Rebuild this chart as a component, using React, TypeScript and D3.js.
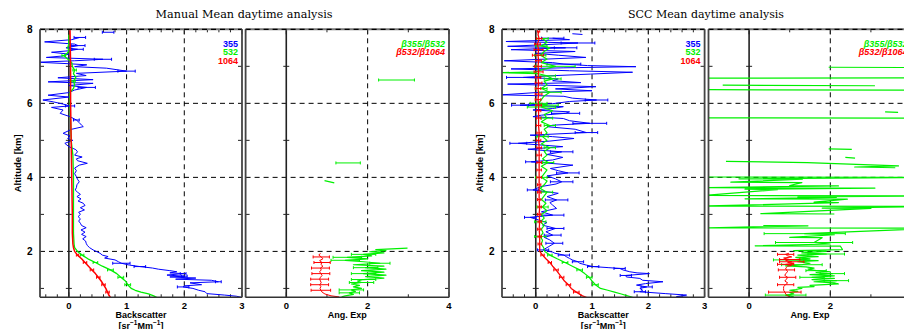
import * as d3 from 'd3';

type Pt = [number, number, number?];

// altitude [km], value, error (0 = no bar). NaN value = gap in the profile
const manual355: Pt[] = [
  [7.92, 0.68, 0.1], [7.86, NaN],
  [7.78, 0.19, 0.1], [7.72, 0.05], [7.66, -0.42], [7.6, 0.1], [7.56, 0.16, 0.12], [7.5, -0.05],
  [7.46, 0.15, 0.1], [7.42, 0.0], [7.38, -0.3], [7.33, 0.0], [7.28, -0.1], [7.24, -0.39],
  [7.19, 0.59, 0.15], [7.15, 0.1], [7.11, -0.53], [7.07, 0.0], [7.04, 0.31], [6.99, 0.1],
  [6.95, 0.65], [6.87, 1.0, 0.15], [6.81, 0.13], [6.75, 0.3], [6.69, -0.19], [6.64, 0.42],
  [6.58, -0.36], [6.54, 0.42], [6.48, 0.0], [6.43, 0.31, 0.15], [6.36, 0.1], [6.29, 0.0],
  [6.22, -0.36], [6.17, 0.0], [6.09, -0.45], [6.04, -0.27], [5.98, -0.1], [5.93, 0.02, 0.08],
  [5.89, -0.3], [5.82, -0.1], [5.73, -0.15], [5.64, 0.02], [5.55, 0.13, 0.05], [5.48, 0.18],
  [5.41, 0.22], [5.37, 0.25], [5.3, 0.05], [5.19, -0.1], [5.12, 0.02], [5.05, -0.02], [5.0, 0.07],
  [4.92, -0.07], [4.83, 0.0], [4.75, 0.12], [4.69, 0.15], [4.6, 0.1], [4.55, 0.23], [4.5, 0.13],
  [4.45, 0.15], [4.38, 0.32], [4.33, 0.18], [4.25, 0.1], [4.18, 0.13], [4.1, 0.1], [4.02, 0.13],
  [3.95, 0.15], [3.88, 0.18], [3.8, 0.14], [3.72, 0.13], [3.66, 0.11], [3.6, 0.15], [3.54, 0.2],
  [3.48, 0.14], [3.42, 0.21], [3.36, 0.16], [3.3, 0.25], [3.24, 0.28], [3.18, 0.2], [3.12, 0.27],
  [3.06, 0.17], [3.0, 0.2], [2.94, 0.16], [2.88, 0.2], [2.82, 0.17], [2.76, 0.2], [2.7, 0.22],
  [2.64, 0.3], [2.58, 0.21], [2.52, 0.28], [2.46, 0.22], [2.4, 0.3], [2.34, 0.24], [2.28, 0.29],
  [2.22, 0.3], [2.16, 0.32], [2.1, 0.36], [2.04, 0.42], [1.98, 0.5], [1.95, 0.54], [1.9, 0.58],
  [1.86, 0.68], [1.82, 0.62], [1.77, 0.8], [1.72, 0.86], [1.68, 0.91, 0.15], [1.63, 1.05],
  [1.59, 1.23, 0.1], [1.55, 1.45], [1.52, 1.55], [1.48, 1.75], [1.45, 1.87], [1.42, 1.75],
  [1.4, 1.98, 0.05], [1.36, 1.7], [1.33, 2.0, 0.05], [1.31, 1.75], [1.28, 2.2], [1.25, 1.85],
  [1.22, 2.47], [1.18, 2.59, 0.05], [1.15, 2.1], [1.1, 2.3], [1.07, 2.0], [1.04, 1.98, 0.1],
  [1.0, 2.15], [0.95, 2.25], [0.91, 2.36], [0.86, 2.39], [0.82, 2.7], [0.79, 2.9], [0.76, 2.99],
];

const manual532: Pt[] = [
  [7.85, 0.0], [7.6, 0.0], [7.51, -0.02], [7.42, 0.0], [7.35, -0.03], [7.29, -0.09, 0.03],
  [7.24, -0.05], [7.2, -0.02], [7.1, 0.05], [7.0, 0.06], [6.9, 0.1, 0.03], [6.8, 0.08],
  [6.7, 0.12], [6.6, 0.08, 0.03], [6.5, 0.1], [6.4, 0.08], [6.3, 0.02], [6.0, 0.02], [5.5, 0.03],
  [5.0, 0.04], [4.6, 0.07], [4.0, 0.08], [3.0, 0.08], [2.5, 0.08], [2.2, 0.09], [2.1, 0.1],
  [2.0, 0.15], [1.9, 0.23, 0.03], [1.8, 0.33], [1.7, 0.46, 0.04], [1.6, 0.58], [1.5, 0.72, 0.05],
  [1.4, 0.83], [1.3, 0.9, 0.05], [1.2, 0.98], [1.1, 1.02, 0.05], [1.0, 1.08], [0.95, 1.15],
  [0.9, 1.25], [0.85, 1.38], [0.8, 1.47], [0.76, 1.52],
];

const manual1064: Pt[] = [
  [8.0, 0.02], [7.0, 0.03], [6.0, 0.03], [5.0, 0.04], [4.0, 0.05], [3.0, 0.06], [2.5, 0.06],
  [2.2, 0.07], [2.1, 0.08], [2.0, 0.1], [1.9, 0.15, 0.02], [1.8, 0.22], [1.7, 0.28, 0.03],
  [1.6, 0.34], [1.5, 0.4, 0.03], [1.4, 0.46], [1.3, 0.51, 0.03], [1.2, 0.56], [1.1, 0.6, 0.03],
  [1.0, 0.64], [0.9, 0.67, 0.03], [0.8, 0.7], [0.76, 0.72],
];

const manualAe355: Pt[] = [
  [6.63, 2.71, 0.44], [6.0, NaN], [4.39, 1.52, 0.3], [4.1, NaN], [3.91, 0.94], [3.85, 1.18],
  [3.0, NaN], [2.09, 2.98], [2.05, 2.2], [2.02, 2.45], [1.99, 2.05], [1.96, 2.4],
  [1.92, 1.9, 0.3], [1.88, 2.1], [1.84, 1.5, 0.35], [1.8, 2.0], [1.76, 1.45, 0.35], [1.72, 1.9],
  [1.68, 2.3, 0.25], [1.64, 1.65], [1.6, 2.4], [1.56, 1.95, 0.3], [1.52, 2.45], [1.48, 1.85],
  [1.44, 2.4], [1.4, 1.9, 0.3], [1.36, 2.45], [1.32, 1.95], [1.28, 2.4], [1.24, 1.9, 0.3],
  [1.2, 1.75], [1.16, 1.85, 0.3], [1.12, 1.6], [1.08, 1.8], [1.04, 1.65], [1.0, 1.85],
  [0.96, 1.6, 0.3], [0.92, 1.7], [0.88, 1.55, 0.25], [0.84, 1.65], [0.8, 1.45], [0.77, 1.36],
];

const manualAe1064: Pt[] = [
  [1.95, 0.84], [1.9, 0.8], [1.85, 0.86, 0.2], [1.8, 0.9], [1.75, 0.82], [1.7, 0.88, 0.2],
  [1.65, 0.85], [1.6, 0.9], [1.55, 0.84, 0.22], [1.5, 0.86], [1.45, 0.82], [1.4, 0.85, 0.22],
  [1.35, 0.88], [1.3, 0.84], [1.25, 0.82, 0.22], [1.2, 0.84], [1.15, 0.86], [1.1, 0.82, 0.22],
  [1.05, 0.85], [1.0, 0.83], [0.95, 0.85, 0.24], [0.9, 0.88], [0.85, 0.95], [0.8, 1.1],
  [0.77, 1.3],
];

const scc355: Pt[] = [
  [7.88, 0.65], [7.86, 0.83], [7.8, NaN],
  [7.76, 0.3, 0.2], [7.72, 0.6], [7.67, -0.53], [7.63, 0.75, 0.3], [7.58, 0.1], [7.54, -0.5],
  [7.5, 0.53, 0.2], [7.45, -0.44], [7.4, 0.7], [7.35, 0.0], [7.3, 0.4], [7.24, 0.89], [7.19, 0.1],
  [7.15, -0.56], [7.1, 0.3], [7.06, 0.5, 0.3], [7.02, 0.92], [6.99, 1.78], [6.96, 0.5],
  [6.93, -0.44], [6.88, 0.6], [6.84, 1.72], [6.79, 0.97], [6.74, 0.2], [6.7, -0.22, 0.3],
  [6.66, 0.4], [6.61, 0.3], [6.56, 0.8], [6.52, -0.5], [6.45, 1.07], [6.39, 0.35], [6.34, 1.0],
  [6.3, 0.1], [6.23, -0.6], [6.19, 0.5], [6.14, 0.65], [6.09, 1.08, 0.2], [6.05, 0.6],
  [5.99, 0.3], [5.95, -0.28, 0.15], [5.91, 0.49], [5.86, 0.3], [5.82, -0.05], [5.77, 0.6],
  [5.73, 0.53, 0.25], [5.68, 0.1], [5.64, -0.05], [5.59, 0.49], [5.53, 0.6], [5.46, 0.96, 0.3],
  [5.41, 0.3], [5.37, 0.2], [5.3, 0.7], [5.21, 0.9, 0.2], [5.14, -0.1], [5.1, 0.3], [5.05, 0.68],
  [4.98, 0.25], [4.92, -0.31, 0.15], [4.83, 0.48], [4.76, -0.14], [4.69, 0.46, 0.2], [4.62, 0.2],
  [4.54, 0.48], [4.47, 0.3], [4.42, -0.08, 0.1], [4.33, 0.66], [4.24, 0.26], [4.18, 0.4],
  [4.12, 0.57, 0.2], [4.04, 0.2], [3.96, 0.35], [3.88, 0.46, 0.2], [3.82, 0.36], [3.75, 0.09],
  [3.66, -0.05, 0.1], [3.57, 0.4], [3.48, 0.2], [3.39, 0.37, 0.2], [3.32, 0.25], [3.25, 0.3],
  [3.16, 0.37], [3.07, 0.1], [2.98, 0.3, 0.2], [2.92, -0.1, 0.1], [2.85, 0.05], [2.78, 0.2],
  [2.71, 0.12], [2.62, 0.35, 0.15], [2.53, 0.18], [2.44, 0.3, 0.15], [2.38, 0.15], [2.31, 0.25],
  [2.22, 0.33, 0.15], [2.12, 0.22], [2.04, 0.13, 0.1], [1.98, 0.3], [1.95, 0.34], [1.9, 0.5, 0.1],
  [1.86, 0.54], [1.81, 0.6], [1.77, 0.65], [1.72, 0.75, 0.1], [1.68, 0.78], [1.63, 0.9],
  [1.59, 1.02, 0.1], [1.56, 1.3], [1.54, 1.49, 0.1], [1.5, 1.55], [1.45, 1.67], [1.42, 1.8],
  [1.4, 2.02], [1.35, 1.6, 0.1], [1.31, 1.61], [1.27, 1.85], [1.22, 1.9], [1.18, 2.26],
  [1.13, 1.95], [1.09, 1.79], [1.04, 1.97, 0.1], [1.0, 1.85], [0.95, 1.9], [0.91, 1.85, 0.1],
  [0.86, 2.3], [0.82, 2.68], [0.78, 2.5], [0.76, 2.7],
];

const scc532: Pt[] = [
  [7.75, 0.12, 0.1], [7.65, 0.2], [7.55, 0.1, 0.1], [7.5, 0.25], [7.4, 0.15], [7.3, 0.08, 0.1],
  [7.2, 0.2], [7.1, 0.1], [7.0, 0.35, 0.35], [6.9, 0.1], [6.85, 0.0], [6.83, -0.6], [6.8, 0.05],
  [6.74, 0.2, 0.15], [6.66, 0.3, 0.15], [6.6, 0.15], [6.5, 0.2], [6.4, 0.1, 0.1], [6.3, 0.25, 0.2],
  [6.2, 0.15], [6.1, 0.1], [6.0, 0.05, 0.15], [5.95, 0.2, 0.2], [5.9, 0.1, 0.25], [5.8, 0.3],
  [5.7, 0.15], [5.6, 0.2, 0.1], [5.5, 0.1], [5.4, 0.25, 0.1], [5.3, 0.15], [5.2, 0.2],
  [5.1, 0.12, 0.1], [5.0, 0.2], [4.9, 0.1], [4.8, 0.25, 0.1], [4.7, 0.15], [4.6, 0.2], [4.5, 0.12],
  [4.4, 0.22, 0.1], [4.3, 0.1], [4.2, 0.2], [4.1, 0.15], [4.0, 0.1, 0.1], [3.9, 0.2], [3.8, 0.15],
  [3.7, 0.08], [3.6, 0.2, 0.1], [3.5, 0.15], [3.4, 0.1], [3.3, 0.18], [3.2, 0.12, 0.1], [3.1, 0.2],
  [3.0, 0.1], [2.9, 0.15], [2.8, 0.08, 0.1], [2.7, 0.15], [2.6, 0.1], [2.5, 0.13], [2.4, 0.08, 0.1],
  [2.3, 0.12], [2.2, 0.1], [2.1, 0.14], [2.0, 0.16], [1.9, 0.25, 0.04], [1.8, 0.38],
  [1.7, 0.52, 0.05], [1.6, 0.65], [1.5, 0.78, 0.05], [1.4, 0.87], [1.3, 0.95, 0.05], [1.2, 1.0],
  [1.1, 1.06, 0.05], [1.0, 1.15], [0.95, 1.28], [0.9, 1.4], [0.85, 1.52], [0.8, 1.63], [0.76, 1.72],
];

const scc1064: Pt[] = [
  [7.95, 0.05, 0.02], [7.85, 0.04], [7.75, 0.06, 0.05], [7.6, 0.03, 0.05], [7.45, 0.05, 0.08],
  [7.3, 0.04, 0.1], [7.15, 0.05, 0.05], [7.0, 0.04, 0.06], [6.85, 0.05, 0.08], [6.7, 0.04, 0.05],
  [6.55, 0.05, 0.06], [6.4, 0.04, 0.05], [6.25, 0.05, 0.06], [6.1, 0.04, 0.05], [5.95, 0.05, 0.05],
  [5.8, 0.05, 0.04], [5.6, 0.05, 0.04], [5.4, 0.05, 0.04], [5.2, 0.06, 0.04], [5.0, 0.05, 0.04],
  [4.8, 0.06, 0.04], [4.6, 0.06, 0.04], [4.4, 0.06, 0.04], [4.2, 0.06, 0.04], [4.0, 0.06, 0.04],
  [3.8, 0.06, 0.03], [3.6, 0.06, 0.03], [3.4, 0.06, 0.03], [3.2, 0.07, 0.03], [3.0, 0.06, 0.03],
  [2.8, 0.07, 0.03], [2.6, 0.06, 0.03], [2.4, 0.07, 0.03], [2.2, 0.07, 0.03], [2.0, 0.07],
  [1.9, 0.12, 0.03], [1.8, 0.18], [1.7, 0.25, 0.03], [1.6, 0.3], [1.5, 0.36, 0.04], [1.4, 0.41],
  [1.3, 0.46, 0.04], [1.2, 0.51], [1.1, 0.58, 0.04], [1.0, 0.63], [0.9, 0.72, 0.05], [0.8, 0.83],
  [0.76, 0.9],
];

const sccAe355: Pt[] = [
  [6.975, 1.96], [6.965, 4.6], [6.8, NaN],
  [6.69, 4.6], [6.68, -1.1], [6.6, NaN],
  [6.49, -0.65], [6.475, 3.1], [6.42, NaN],
  [6.37, -1.1], [6.355, 4.6], [6.0, NaN],
  [5.77, 3.35], [5.755, 3.67], [5.7, NaN],
  [5.61, -1.1], [5.6, 4.6], [5.0, NaN],
  [4.77, 1.96], [4.755, 2.53], [4.65, NaN],
  [4.54, 2.37], [4.52, 2.61], [4.48, NaN],
  [4.43, -0.57], [4.4, 1.43], [4.31, 3.68], [4.28, 2.6], [4.26, 3.6], [4.1, NaN],
  [4.01, -1.1], [3.995, 4.6], [3.96, -0.25], [3.95, 1.31], [3.87, -0.45], [3.86, 1.3],
  [3.78, 1.0], [3.77, 2.2], [3.72, -1.1], [3.71, 3.1], [3.68, -0.1], [3.67, 0.7],
  [3.51, -1.1], [3.5, 4.6], [3.47, 1.2], [3.46, 2.15], [3.42, -0.1], [3.41, 2.42],
  [3.33, 1.6], [3.32, 2.2], [3.225, -1.1], [3.215, 4.6], [3.17, 1.8], [3.16, 3.0],
  [3.02, 0.29], [3.01, 2.1], [2.85, NaN],
  [2.7, 0.35], [2.69, 1.45], [2.635, -1.1], [2.625, 4.6],
  [2.48, 1.37, 1.0], [2.45, 2.1], [2.38, 1.0], [2.37, 1.8], [2.24, 1.6, 0.95], [2.2, 2.0],
  [2.15, 0.15], [2.14, 2.25], [2.05, 2.3], [2.02, 1.1], [2.0, 1.9], [1.96, 1.3],
  [1.93, 1.9, 0.45], [1.9, 1.2], [1.86, 1.7], [1.84, 1.15], [1.8, 1.5], [1.77, 1.0, 0.4],
  [1.75, 1.7], [1.72, 1.2], [1.68, 1.5], [1.64, 1.3, 0.5], [1.61, 0.9], [1.58, 1.4], [1.55, 1.6],
  [1.52, 1.45], [1.48, 1.65, 0.25], [1.45, 2.0], [1.43, 1.65], [1.4, 2.05, 0.3], [1.37, 1.5],
  [1.34, 2.1], [1.3, 1.55, 0.3], [1.27, 2.1], [1.24, 1.55], [1.21, 2.15, 0.3], [1.18, 1.6],
  [1.15, 2.1], [1.12, 2.2], [1.08, 1.5], [1.05, 1.6], [1.03, 1.2], [1.0, 1.3], [0.97, 1.15],
  [0.95, 1.0], [0.92, 1.2], [0.89, 1.0], [0.85, 1.1], [0.82, 0.9, 0.5], [0.8, 1.0], [0.77, 1.1],
];

const sccAe1064: Pt[] = [
  [1.95, 0.98], [1.92, 0.9, 0.2], [1.88, 0.95], [1.85, 1.05], [1.82, 0.85], [1.78, 1.0, 0.25],
  [1.75, 0.9], [1.72, 1.05, 0.3], [1.7, 0.95], [1.68, 1.1], [1.65, 0.9, 0.2], [1.62, 1.05],
  [1.6, 0.95], [1.55, 0.9], [1.5, 0.92, 0.2], [1.45, 0.95], [1.4, 0.9], [1.35, 0.88],
  [1.3, 0.95, 0.2], [1.25, 0.92], [1.2, 0.88], [1.15, 0.95], [1.1, 0.9, 0.2], [1.05, 0.85],
  [1.0, 0.85], [0.95, 0.85], [0.9, 0.88, 0.4], [0.85, 0.9], [0.8, 0.95], [0.77, 1.0],
];

const altTicks = [2, 4, 6, 8];
const altMinor = [1, 3, 5, 7];
const bscTicks = [0, 1, 2, 3];
const aeTicks = [0, 2, 4];
const bscLegend = ['355', '532', '1064'];
const aeLegend = ['β355/β532', 'β532/β1064'];

const BLUE = '#0000ff';
const GREEN = '#00f000';
const RED = '#ff0000';
const W = 904;
const H = 329;
const TOP = 29.3;
const BOTTOM = 297.3;
const SANS = '"Liberation Sans", Arial, sans-serif';

const y = d3.scaleLinear().domain([0.76, 8]).range([BOTTOM, TOP]);

type Series = { data: Pt[]; color: string; width: number };

function Panel({
  id, x0, x1, domain, grid, ticks, minorStep, series, legend, legendColors, italic, xLabel, unit, yLabels,
}: {
  id: string; x0: number; x1: number; domain: [number, number]; grid: number[]; ticks: number[];
  minorStep: number; series: Series[]; legend: string[]; legendColors: string[]; italic?: boolean;
  xLabel: string; unit?: boolean; yLabels?: boolean;
}) {
  const x = d3.scaleLinear().domain(domain).range([x0, x1]);
  const line = d3.line<Pt>().defined((d) => !isNaN(d[1])).x((d) => x(d[1])).y((d) => y(d[0]));
  const minor = d3.range(Math.ceil(domain[0] / minorStep) * minorStep, domain[1] + 1e-9, minorStep);
  const cx = (x0 + x1) / 2;
  return (
    <g>
      <defs>
        <clipPath id={id}>
          <rect x={x0} y={TOP} width={x1 - x0} height={BOTTOM - TOP} />
        </clipPath>
      </defs>
      <rect x={x0} y={TOP} width={x1 - x0} height={BOTTOM - TOP} fill="#fff" />
      {/* grid */}
      {[2, 4, 6].map((a) => (
        <line key={'h' + a} x1={x0} x2={x1} y1={y(a)} y2={y(a)} stroke="#000" strokeDasharray="5,4" strokeWidth={1} />
      ))}
      {grid.map((v) => (
        <line key={'v' + v} x1={x(v)} x2={x(v)} y1={TOP} y2={BOTTOM} stroke="#000" strokeDasharray="5,4" strokeWidth={1} />
      ))}
      <line x1={x(0)} x2={x(0)} y1={TOP} y2={BOTTOM} stroke="#222" strokeWidth={1.6} />
      {/* ticks */}
      {minor.map((v, i) => {
        const major = ticks.some((t) => Math.abs(t - v) < 1e-6);
        const len = major ? 5 : 3;
        return (
          <g key={'t' + i} stroke="#222" strokeWidth={1}>
            <line x1={x(v)} x2={x(v)} y1={BOTTOM} y2={BOTTOM - len} />
            <line x1={x(v)} x2={x(v)} y1={TOP} y2={TOP + len} />
          </g>
        );
      })}
      {altMinor.map((a) => (
        <g key={'m' + a} stroke="#222" strokeWidth={1}>
          <line x1={x0} x2={x0 + 4} y1={y(a)} y2={y(a)} />
          <line x1={x1} x2={x1 - 4} y1={y(a)} y2={y(a)} />
          <line x1={x(0) - 3} x2={x(0) + 3} y1={y(a)} y2={y(a)} />
        </g>
      ))}
      {/* data */}
      <g clipPath={`url(#${id})`} fill="none">
        {series.map((s, si) => (
          <g key={si} stroke={s.color}>
            <path d={line(s.data) ?? ''} strokeWidth={s.width} strokeLinejoin="round" />
            {s.data
              .filter((d) => d[2] && !isNaN(d[1]))
              .map((d, i) => (
                <g key={i} strokeWidth={1}>
                  <line x1={x(d[1] - d[2]!)} x2={x(d[1] + d[2]!)} y1={y(d[0])} y2={y(d[0])} />
                  <line x1={x(d[1] - d[2]!)} x2={x(d[1] - d[2]!)} y1={y(d[0]) - 1.5} y2={y(d[0]) + 1.5} />
                  <line x1={x(d[1] + d[2]!)} x2={x(d[1] + d[2]!)} y1={y(d[0]) - 1.5} y2={y(d[0]) + 1.5} />
                </g>
              ))}
          </g>
        ))}
      </g>
      {/* frame */}
      <line x1={x0} x2={x1} y1={TOP} y2={TOP} stroke="#777" strokeWidth={2} />
      <line x1={x0} x2={x1} y1={TOP} y2={TOP} stroke="#000" strokeWidth={1.2} strokeDasharray="5,4" />
      <line x1={x0} x2={x1} y1={BOTTOM} y2={BOTTOM} stroke="#333" strokeWidth={1.5} />
      <line x1={x0} x2={x0} y1={TOP} y2={BOTTOM} stroke="#444" strokeWidth={1.8} />
      <line x1={x1} x2={x1} y1={TOP} y2={BOTTOM} stroke="#444" strokeWidth={1.8} />
      {/* legend */}
      {legend.map((t, i) => (
        <text key={t} x={x1 - 4} y={47 + i * 8.4} textAnchor="end" fontFamily={SANS} fontWeight="bold"
          fontStyle={italic ? 'italic' : 'normal'} fontSize={9} fill={legendColors[i]}>
          {t}
        </text>
      ))}
      {/* x tick labels */}
      {ticks
        .filter((t) => x(t) < W - 4)
        .map((t) => (
          <text key={'l' + t} x={x(t)} y={308.5} textAnchor="middle" fontFamily={SANS} fontWeight="bold" fontSize={9.5}>
            {t}
          </text>
        ))}
      <text x={cx} y={318} textAnchor="middle" fontFamily={SANS} fontWeight="bold" fontSize={9}>
        {xLabel}
      </text>
      {unit && (
        <text x={cx} y={328.5} textAnchor="middle" fontFamily={SANS} fontWeight="bold" fontSize={9}>
          [sr<tspan dy={-4} fontSize={6.5}>−1</tspan><tspan dy={4}>Mm</tspan><tspan dy={-4} fontSize={6.5}>−1</tspan><tspan dy={4}>]</tspan>
        </text>
      )}
      {yLabels &&
        altTicks.map((a) => (
          <text key={'y' + a} x={x0 - 7.5} y={y(a) + 3.5} textAnchor="end" fontFamily={SANS} fontWeight="bold" fontSize={10}>
            {a}
          </text>
        ))}
      {yLabels && (
        <text transform={`translate(${x0 - 19},${(TOP + BOTTOM) / 2}) rotate(-90)`} textAnchor="middle"
          fontFamily={SANS} fontWeight="bold" fontSize={9.5}>
          Altitude [km]
        </text>
      )}
    </g>
  );
}

export default function App() {
  const bscColors = [BLUE, GREEN, RED];
  const aeColors = [GREEN, RED];
  return (
    <svg width={W} height={H} style={{ position: 'absolute', left: 0, top: 0, background: '#fff' }}>
      <rect width={W} height={H} fill="#fff" />
      <text x={244} y={18} textAnchor="middle" fontFamily='"DejaVu Serif", serif' fontSize={11}
        textLength={177} lengthAdjust="spacingAndGlyphs">
        Manual Mean daytime analysis
      </text>
      <text x={706} y={18} textAnchor="middle" fontFamily='"DejaVu Serif", serif' fontSize={11}
        textLength={156} lengthAdjust="spacingAndGlyphs">
        SCC Mean daytime analysis
      </text>
      <Panel id="c1" x0={40} x1={242} domain={[-0.5, 3]} grid={[1, 2]} ticks={bscTicks} minorStep={0.2}
        series={[
          { data: manual355, color: BLUE, width: 1 },
          { data: manual532, color: GREEN, width: 1.3 },
          { data: manual1064, color: RED, width: 1.5 },
        ]}
        legend={bscLegend} legendColors={bscColors} xLabel="Backscatter" unit yLabels />
      <Panel id="c2" x0={245.6} x1={449} domain={[-1, 4]} grid={[2]} ticks={aeTicks} minorStep={1}
        series={[
          { data: manualAe355, color: GREEN, width: 1.2 },
          { data: manualAe1064, color: RED, width: 1 },
        ]}
        legend={aeLegend} legendColors={aeColors} italic xLabel="Ang. Exp" />
      <Panel id="c3" x0={502} x1={704.6} domain={[-0.6, 3]} grid={[1, 2]} ticks={bscTicks} minorStep={0.2}
        series={[
          { data: scc355, color: BLUE, width: 1 },
          { data: scc532, color: GREEN, width: 1.2 },
          { data: scc1064, color: RED, width: 1.3 },
        ]}
        legend={bscLegend} legendColors={bscColors} xLabel="Backscatter" unit yLabels />
      <Panel id="c4" x0={708.5} x1={911.5} domain={[-1, 4]} grid={[2]} ticks={aeTicks} minorStep={1}
        series={[
          { data: sccAe355, color: GREEN, width: 1.2 },
          { data: sccAe1064, color: RED, width: 1 },
        ]}
        legend={aeLegend} legendColors={aeColors} italic xLabel="Ang. Exp" />
    </svg>
  );
}
